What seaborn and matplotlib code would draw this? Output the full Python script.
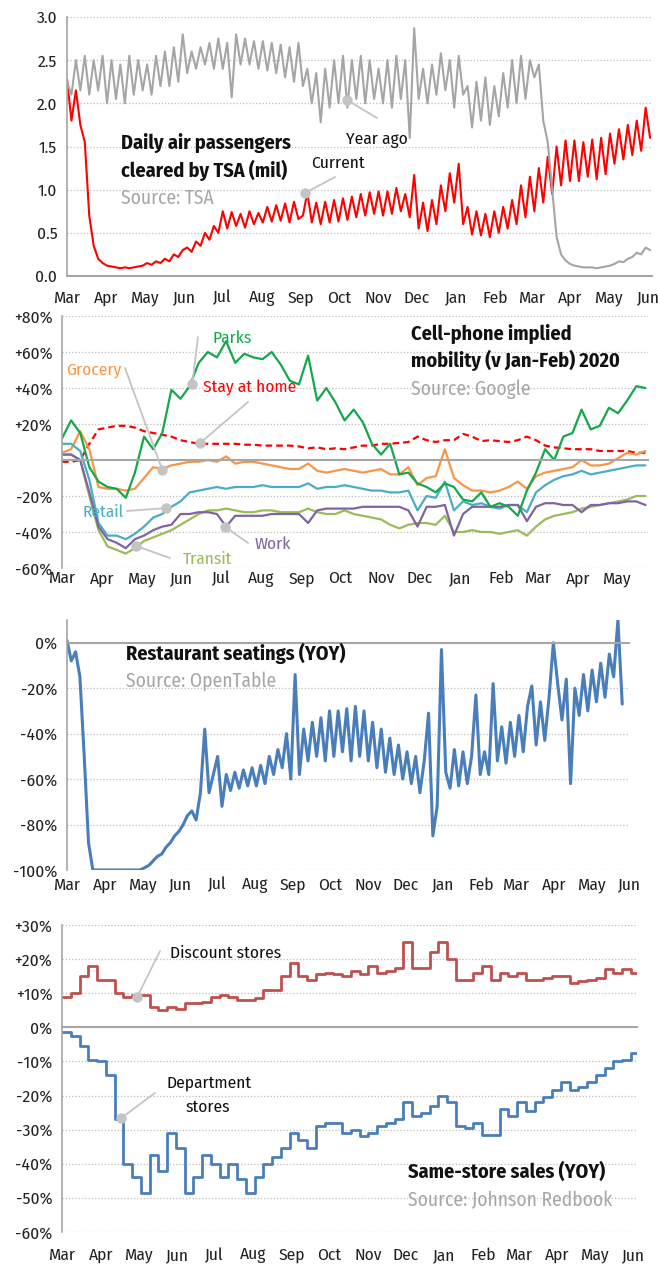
import pandas as pd
import matplotlib
matplotlib.use('Agg')
import matplotlib.pyplot as plt
import matplotlib.dates as mdates
import seaborn as sns

# ---- data -------------------------------------------------------------
# TSA daily passengers (mil), two readings per week from 1 Mar 2020
tsa_current = [
    2.28, 1.80, 2.15, 1.75, 1.55, 0.70, 0.35, 0.20, 0.15,
    0.12, 0.11, 0.10, 0.09, 0.10, 0.09, 0.10, 0.11, 0.12,
    0.15, 0.13, 0.17, 0.15, 0.20, 0.17, 0.25, 0.22, 0.30,
    0.33, 0.28, 0.40, 0.35, 0.50, 0.42, 0.58, 0.50,
    0.75, 0.55, 0.74, 0.58, 0.72, 0.56, 0.75, 0.60, 0.73,
    0.62, 0.80, 0.63, 0.82, 0.64, 0.84, 0.62, 0.86, 0.66,
    0.70, 0.97, 0.62, 0.85, 0.60, 0.86, 0.62, 0.88,
    0.63, 0.90, 0.65, 0.92, 0.68, 0.95, 0.70, 0.97, 0.72,
    0.98, 0.70, 0.98, 0.72, 1.02, 0.75, 0.95, 0.68, 1.17,
    0.55, 0.85, 0.52, 0.88, 0.60, 1.05, 0.75, 1.19, 0.85,
    1.30, 0.60, 0.80, 0.48, 0.75, 0.47, 0.72, 0.45, 0.75,
    0.50, 0.80, 0.55, 0.88, 0.60, 1.05, 0.68, 1.15,
    0.75, 1.25, 0.85, 1.38, 0.95, 1.50, 1.05, 1.57, 1.10,
    1.57, 1.10, 1.55, 1.15, 1.58, 1.12, 1.60, 1.18, 1.65,
    1.30, 1.70, 1.35, 1.75, 1.40, 1.80, 1.45, 1.95, 1.60,
]
tsa_year_ago = [
    2.25, 2.10, 2.50, 2.15, 2.55, 2.10, 2.50, 2.15, 2.55,
    2.00, 2.50, 2.05, 2.45, 2.00, 2.55, 2.10, 2.50, 2.15,
    2.45, 2.10, 2.55, 2.20, 2.60, 2.20, 2.65, 2.25, 2.80,
    2.35, 2.60, 2.40, 2.65, 2.45, 2.70, 2.40, 2.75,
    2.40, 2.70, 2.07, 2.80, 2.45, 2.75, 2.45, 2.72, 2.40,
    2.72, 2.38, 2.70, 2.35, 2.68, 2.30, 2.65, 2.25, 2.70,
    2.20, 2.40, 2.00, 2.35, 1.78, 2.40, 1.95, 2.50,
    2.00, 2.55, 1.95, 2.50, 2.05, 2.55, 2.00, 2.50, 2.05,
    2.40, 2.00, 2.50, 1.95, 2.55, 2.05, 2.50, 1.60, 2.87,
    2.05, 2.40, 2.00, 2.45, 2.10, 2.58, 2.15, 2.50, 1.95,
    2.55, 2.10, 2.20, 1.72, 2.25, 1.80, 2.30, 1.75, 2.20,
    1.85, 2.35, 1.95, 2.50, 2.00, 2.55, 2.05, 2.50,
    2.30, 2.45, 1.80, 1.55, 1.00, 0.45, 0.25, 0.18, 0.14,
    0.12, 0.11, 0.10, 0.10, 0.10, 0.09, 0.10, 0.11, 0.12,
    0.14, 0.17, 0.16, 0.20, 0.22, 0.27, 0.25, 0.33, 0.30,
]

# Google mobility (% v Jan-Feb 2020), weekly from 1 Mar 2020
parks = [12, 22, 15, -4, -12, -15, -16, -21, -7, 13, 6, 15, 39, 34, 41, 54, 60, 57, 66, 54,
         59, 57, 56, 60, 53, 44, 42, 58, 33, 40, 32, 22, 28, 21, 9, 3, 9, -8, -7, -13,
         -15, -18, -13, -15, -22, -23, -18, -26, -24, -26, -31, -17, -7, 6, 0, 13, 15, 28, 17, 19,
         29, 26, 33, 41, 40]
grocery = [4, 6, 16, 6, -15, -16, -16, -17, -16, -10, -4, -5, -3, -2, -1, -1, 0, -1, 2, -2,
           -1, -1, -2, -3, -4, -5, -5, -2, -6, -7, -6, -5, -6, -7, -6, -5, -8, -8, -4, -14,
           -10, -9, 6, -10, -14, -17, -17, -18, -17, -15, -12, -16, -9, -7, -6, -5, -4, 0, -3, -3,
           -2, 1, 4, 3, 5]
stay_home = [-1, -1, 0, 9, 17, 18, 19, 19, 18, 16, 15, 14, 13, 11, 10, 9, 9, 9, 9, 9,
             8.5, 8.5, 8, 8, 8, 8, 7.5, 6.5, 7, 6, 6.5, 6, 7, 8, 8, 9, 9, 9.5, 10, 13,
             11, 10, 11, 11, 14.5, 13, 10.5, 11, 10.5, 10, 11, 13, 11, 8, 7, 6.5, 6, 6, 6, 5,
             5, 5, 5, 4, 4]
retail = [9, 9, 5, -11, -35, -42, -42, -44, -41, -37, -32, -30, -26, -23, -18, -17, -16, -15, -16, -15,
          -15, -15, -14, -15, -15, -15, -15, -13, -16, -15, -15, -14, -15, -16, -17, -17, -18, -18, -17, -28,
          -20, -21, -12, -28, -23, -25, -24, -26, -27, -25, -25, -29, -18, -14, -11, -9, -8, -6, -8, -7,
          -6, -5, -4, -3, -3]
transit = [3, 3, 0, -20, -39, -48, -50, -52, -49, -45, -43, -41, -39, -36, -33, -30, -28, -28, -27, -28,
           -29, -29, -28, -28, -29, -29, -29, -27, -29, -30, -30, -28, -30, -31, -32, -33, -36, -38, -36, -35,
           -35, -36, -31, -40, -40, -39, -40, -40, -41, -40, -39, -42, -37, -33, -31, -30, -29, -27, -26, -25,
           -24, -23, -22, -20, -20]
work = [3, 3, 0, -18, -37, -44, -46, -49, -44, -42, -39, -37, -36, -30, -30, -29, -29, -30, -37, -31,
        -31, -31, -31, -30, -30, -30, -30, -35, -28, -27, -27, -27, -27, -26, -26, -26, -26, -26, -28, -37,
        -26, -26, -25, -42, -30, -26, -26, -26, -26, -25, -25, -34, -26, -24, -24, -25, -25, -29, -25, -25,
        -24, -24, -23, -23, -25]

# OpenTable restaurant seatings YOY (%), two readings per week from 1 Mar 2020
restaurant = [
    1, -8, -4, -15, -50, -88, -100, -100, -100,
    -100, -100, -100, -100, -100, -100, -100, -100, -100,
    -99, -98, -96, -94, -93, -90, -88, -85, -83,
    -80, -76, -74, -78, -66, -38, -66, -58,
    -50, -72, -58, -65, -57, -64, -56, -63, -55,
    -63, -54, -62, -50, -58, -47, -55, -40, -60,
    -14, -58, -38, -52, -35, -50, -33, -52,
    -30, -50, -30, -48, -29, -52, -28, -50, -30,
    -52, -35, -55, -38, -57, -42, -58, -45, -60,
    -48, -62, -50, -66, -52, -31, -85, -72, -3,
    -57, -64, -47, -63, -48, -62, -50, -23, -58,
    -48, -58, -18, -52, -37, -53, -35, -50,
    -32, -48, -28, -19, -45, -26, -43, -24, 0,
    -18, -34, -16, -62, -20, -32, -14, -30, -12,
    -26, -9, -24, -5, -15, 10, -27,
]

# Johnson Redbook same-store sales YOY (%), weekly from 1 Mar 2020
discount = [9, 10, 15, 18, 14, 14, 10, 9, 9.5, 9.5, 6, 5, 6, 5.5, 7, 7, 7.5, 9, 9.5, 9,
            8, 8, 8.5, 11, 11, 15, 19, 15, 14, 15.5, 16, 15.5, 15, 16.5, 15.5, 18, 16, 16.5, 17.5, 25,
            17.5, 17.5, 22, 25, 20, 14, 14, 16, 18, 14, 16, 15, 16, 14, 14, 14.5, 15, 15, 13, 13.5,
            14, 14.5, 17, 16, 17, 16]
department = [-1.5, -2.5, -5.5, -9.5, -10, -14, -27, -40, -44, -48.5, -37.5, -42, -31, -35.5, -48.5,
              -44, -37.5, -40, -44, -40, -44.5, -48.5, -44, -40, -38, -35.5, -31, -33, -35.5, -29,
              -28, -28, -31, -30, -32, -31, -29, -28, -27, -22, -26, -25, -23, -20, -22,
              -29, -29.5, -28, -31.5, -31.5, -24, -26, -22, -24.5, -22, -20.5, -18.5, -16, -18.5, -17.5,
              -16, -14, -12, -10, -9.5, -7.5]

tsa_ticks = [0, 0.5, 1.0, 1.5, 2.0, 2.5, 3.0]
tsa_labels = ['0.0', '0.5', '1.0', '1.5', '2.0', '2.5', '3.0']
mob_ticks = [-60, -40, -20, 0, 20, 40, 60, 80]
mob_labels = ['-60%', '-40%', '-20%', '', '+20%', '+40%', '+60%', '+80%']
rest_ticks = [-100, -80, -60, -40, -20, 0]
rest_labels = ['-100%', '-80%', '-60%', '-40%', '-20%', '0%']
store_ticks = [-60, -50, -40, -30, -20, -10, 0, 10, 20, 30]
store_labels = ['-60%', '-50%', '-40%', '-30%', '-20%', '-10%', '0%', '+10%', '+20%', '+30%']

# ---- dates --------------------------------------------------------------
half_week = pd.date_range('2020-03-01', periods=len(tsa_current), freq='84h')
rest_dates = pd.date_range('2020-03-01', periods=len(restaurant), freq='84h')
mob_dates = pd.date_range('2020-03-01', periods=len(parks), freq='7D')
store_dates = pd.date_range('2020-03-01', periods=len(discount) + 1, freq='7D')

# ---- style --------------------------------------------------------------
sns.set_style('white')
plt.rcParams['font.family'] = ['Fira Sans Condensed', 'DejaVu Sans']
plt.rcParams['font.stretch'] = 'condensed'
AX_GRAY = '#a6a6a6'
GRID = '#bdbdbd'
SRC = '#a6a6a6'
LEAD = '#c4c4c4'
TICK_FS = 12.5

W, H = 658, 1265
fig = plt.figure(figsize=(W / 100, H / 100), dpi=100)


def box(l, t, r, b):
    return [l / W, 1 - b / H, (r - l) / W, (b - t) / H]


def style(ax, ticks, labels, zero_axis):
    ax.set_axisbelow(True)
    ax.set_yticks(ticks, labels=labels)
    ax.grid(False)
    for t in ticks:
        if t != 0:
            ax.axhline(t, color=GRID, lw=0.9, ls=(0, (1, 1.6)), zorder=0)
    ax.spines[['top', 'right']].set_visible(False)
    ax.spines['left'].set_color(AX_GRAY)
    ax.spines['bottom'].set_color(AX_GRAY)
    ax.spines['left'].set_linewidth(1.2)
    ax.spines['bottom'].set_linewidth(1.5)
    ax.tick_params(axis='y', length=4, width=1, color=AX_GRAY, labelsize=TICK_FS,
                   labelcolor='#222222', pad=3)
    ax.xaxis.set_major_locator(mdates.MonthLocator())
    ax.xaxis.set_major_formatter(mdates.DateFormatter('%b'))
    ax.set_xlabel('')
    ax.set_ylabel('')
    if zero_axis:
        ax.spines['bottom'].set_position(('data', 0))
        ax.tick_params(axis='x', length=5, width=1, color=AX_GRAY, labelbottom=False)
        sec = ax.secondary_xaxis('bottom')
        sec.xaxis.set_major_locator(mdates.MonthLocator())
        sec.xaxis.set_major_formatter(mdates.DateFormatter('%b'))
        sec.spines['bottom'].set_visible(False)
        sec.tick_params(length=0, labelsize=TICK_FS, labelcolor='#222222', pad=zero_axis)
    else:
        ax.tick_params(axis='x', length=5, width=1, color=AX_GRAY, labelsize=TICK_FS,
                       labelcolor='#222222', pad=5)


def ftext(x, y, s, **kw):
    fig.text(x / W, 1 - y / H, s, va='baseline', ha='left', **kw)


def leader(ax, date, val, px, py):
    ax.annotate('', xy=(pd.Timestamp(date), val), xycoords='data',
                xytext=(px, H - py), textcoords='figure pixels',
                arrowprops=dict(arrowstyle='-', color=LEAD, lw=1.3, shrinkA=0, shrinkB=0))
    ax.plot(pd.Timestamp(date), val, 'o', color=LEAD, ms=6.5, zorder=5, clip_on=False)


TITLE = dict(fontsize=14.5, fontweight='bold', color='#111111')
SOURCE = dict(fontsize=14, color=SRC)
NOTE = 12.5

# ---- panel 1: TSA ------------------------------------------------------
ax1 = fig.add_axes(box(67, 17, 652, 276))
sns.lineplot(x=half_week, y=tsa_current, ax=ax1, color='#ff0000', linewidth=1.5)
sns.lineplot(x=half_week, y=tsa_year_ago, ax=ax1, color='#a5a5a5', linewidth=1.5)
ax1.set_ylim(0, 3.0)
ax1.set_xlim(pd.Timestamp('2020-03-01'), pd.Timestamp('2021-06-04'))
style(ax1, tsa_ticks, tsa_labels, False)
leader(ax1, '2020-10-07', 2.04, 377, 118)
leader(ax1, '2020-09-04', 0.96, 335, 177)
ftext(346, 144, 'Year ago', fontsize=NOTE, color='#111111')
ftext(311, 168, 'Current', fontsize=NOTE, color='#111111')
ftext(121, 149, 'Daily air passengers', **TITLE)
ftext(121, 177, 'cleared by TSA (mil)', **TITLE)
ftext(121, 204, 'Source: TSA', **SOURCE)

# ---- panel 2: mobility ---------------------------------------------------
ax2 = fig.add_axes(box(62, 316, 648, 568))
mob_series = [('#ff0000', stay_home), ('#f79646', grocery), ('#4bacc6', retail),
              ('#9bbb59', transit), ('#8064a2', work), ('#14a84b', parks)]
for color, vals in mob_series:
    ls = (0, (3, 1.8)) if vals is stay_home else '-'
    sns.lineplot(x=mob_dates, y=vals, ax=ax2, color=color, linewidth=1.6, linestyle=ls)
ax2.set_ylim(-60, 80)
ax2.set_xlim(pd.Timestamp('2020-03-01'), pd.Timestamp('2021-05-25'))
style(ax2, mob_ticks, mob_labels, 2)
leader(ax2, '2020-06-09', 42, 198, 337)
leader(ax2, '2020-05-17', -5.5, 125, 368)
leader(ax2, '2020-06-15', 9.4, 248, 402)
leader(ax2, '2020-05-20', -26.7, 127, 511)
leader(ax2, '2020-04-27', -47.8, 170, 558)
leader(ax2, '2020-07-04', -37, 248, 543)
ftext(213, 343, 'Parks', fontsize=NOTE, color='#14a84b')
ftext(66, 374, 'Grocery', fontsize=NOTE, color='#f79646')
ftext(203, 392, 'Stay at home', fontsize=NOTE, color='#ff0000')
ftext(83, 517, 'Retail', fontsize=NOTE, color='#4bacc6')
ftext(183, 564, 'Transit', fontsize=NOTE, color='#9bbb59')
ftext(255, 549, 'Work', fontsize=NOTE, color='#8064a2')
ftext(411, 340, 'Cell-phone implied', **TITLE)
ftext(411, 367, 'mobility (v Jan-Feb) 2020', **TITLE)
ftext(411, 395, 'Source: Google', **SOURCE)

# ---- panel 3: restaurants ------------------------------------------------
ax3 = fig.add_axes(box(67, 620, 629, 870))
sns.lineplot(x=rest_dates, y=restaurant, ax=ax3, color='#4a7ebb', linewidth=2.2)
ax3.set_ylim(-100, 10)
ax3.set_xlim(pd.Timestamp('2020-03-01'), pd.Timestamp('2021-06-01'))
style(ax3, rest_ticks, rest_labels, 5)
ftext(126, 660, 'Restaurant seatings (YOY)', **TITLE)
ftext(126, 687, 'Source: OpenTable', **SOURCE)

# ---- panel 4: same-store sales -------------------------------------------
ax4 = fig.add_axes(box(62, 925, 637, 1232))
sns.lineplot(x=store_dates, y=discount + [discount[-1]], ax=ax4, color='#c0504d',
             linewidth=2, drawstyle='steps-post')
sns.lineplot(x=store_dates, y=department + [department[-1]], ax=ax4, color='#4a7ebb',
             linewidth=2, drawstyle='steps-post')
ax4.set_ylim(-60, 30)
ax4.set_xlim(pd.Timestamp('2020-03-01'), pd.Timestamp('2021-06-04'))
style(ax4, store_ticks, store_labels, 11)
leader(ax4, '2020-04-30', 8.8, 160, 951)
leader(ax4, '2020-04-17', -26.7, 155, 1093)
ftext(170, 958, 'Discount stores', fontsize=NOTE, color='#111111')
ftext(167, 1088, 'Department', fontsize=NOTE, color='#111111')
ftext(186, 1112, 'stores', fontsize=NOTE, color='#111111')
ftext(408, 1178, 'Same-store sales (YOY)', **TITLE)
ftext(408, 1206, 'Source: Johnson Redbook', **SOURCE)

fig.savefig('out.png', dpi=100)
